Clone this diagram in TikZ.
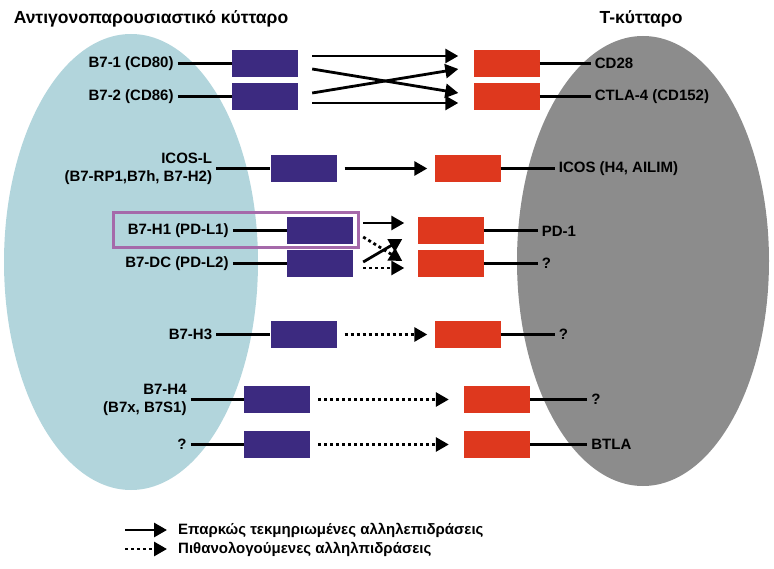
\documentclass[tikz,border=0pt]{standalone}
\usepackage{fontspec}
\setmainfont{Liberation Sans}
\usetikzlibrary{arrows.meta,positioning,calc}
\definecolor{apcblue}{RGB}{178,213,220}
\definecolor{tgray}{RGB}{140,140,140}
\definecolor{ligblue}{RGB}{60,42,128}
\definecolor{recred}{RGB}{222,56,30}
\definecolor{hlpurple}{RGB}{165,105,170}
\tikzset{
  lig/.style={fill=ligblue, minimum width=66pt, minimum height=27pt, inner sep=0pt},
  rec/.style={fill=recred, minimum width=66pt, minimum height=27pt, inner sep=0pt},
  llab/.style={font=\bfseries\fontsize{15}{18}\selectfont, inner sep=4pt, align=right},
  rlab/.style={font=\bfseries\fontsize{15}{18}\selectfont, inner sep=4pt, align=left},
  celltitle/.style={font=\bfseries\fontsize{17.5}{21}\selectfont},
  keytext/.style={font=\bfseries\fontsize{15}{18}\selectfont, inner sep=4pt},
  stem/.style={line width=3pt},
  sure/.style={line width=2.8pt, -{Triangle[length=13pt,width=14pt]}},
  maybe/.style={sure, dash pattern=on 3pt off 3pt},
}
\begin{document}
\begin{tikzpicture}[x=1pt,y=-1pt]
  \useasboundingbox (0,0) rectangle (774,569);
  % cells
  \fill[apcblue] (131,262) ellipse [x radius=127pt, y radius=228pt];
  \fill[tgray] (643,261) ellipse [x radius=126pt, y radius=225pt];
  \node[celltitle] (apctitle) at (151,19) {Αντιγονοπαρουσιαστικό κύτταρο};
  \node[celltitle] (ttitle) at (641,19) {Τ-κύτταρο};

  % ligands
  \node[lig] (b1) at (265,63.5) {};
  \node[lig] (b2) at (265,96.5) {};
  \node[lig] (icosl) at (303.5,168.5) {};
  \node[lig] (pdl1) at (320,231) {};
  \node[lig] (pdl2) at (320,263.5) {};
  \node[lig] (h3) at (303.5,334.5) {};
  \node[lig] (h4) at (277,399.5) {};
  \node[lig] (lq) at (277,444.5) {};
  % receptors
  \node[rec] (cd28) at (506.5,63.5) {};
  \node[rec] (ctla4) at (506.5,96.5) {};
  \node[rec] (icos) at (467.5,168.5) {};
  \node[rec] (pd1) at (450.5,231) {};
  \node[rec] (pdq) at (450.5,263.5) {};
  \node[rec] (h3r) at (467.5,334.5) {};
  \node[rec] (h4r) at (497,399.5) {};
  \node[rec] (btla) at (497,444.5) {};

  % labels
  \node[llab, left=54pt of b1] (b1lab) {B7-1 (CD80)};
  \node[llab, left=54pt of b2] (b2lab) {B7-2 (CD86)};
  \node[llab, left=54pt of icosl] (icosllab) {ICOS-L\\(B7-RP1,B7h, B7-H2)};
  \node[llab, left=54pt of pdl1] (pdl1lab) {B7-H1 (PD-L1)};
  \node[llab, left=54pt of pdl2] (pdl2lab) {B7-DC (PD-L2)};
  \node[llab, left=54pt of h3] (h3lab) {B7-H3};
  \node[llab, left=53pt of h4] (h4lab) {B7-H4\\(B7x, B7S1)};
  \node[llab, left=53pt of lq] (lqlab) {?};
  \node[rlab, right=51pt of cd28] (cd28lab) {CD28};
  \node[rlab, right=51pt of ctla4] (ctla4lab) {CTLA-4 (CD152)};
  \node[rlab, right=54pt of icos] (icoslab) {ICOS (H4, AILIM)};
  \node[rlab, right=54pt of pd1] (pd1lab) {PD-1};
  \node[rlab, right=54pt of pdq] (pdqlab) {?};
  \node[rlab, right=54pt of h3r] (h3rlab) {?};
  \node[rlab, right=57pt of h4r] (h4rlab) {?};
  \node[rlab, right=57pt of btla] (btlalab) {BTLA};

  % stems
  \foreach \n in {b1,b2,icosl,pdl1,pdl2,h3,h4,lq}
    \draw[stem] (\n lab.east) -- (\n.west);
  \foreach \n in {cd28,ctla4,icos,pd1,pdq,h3r,h4r,btla}
    \draw[stem] (\n.east) -- (\n lab.west);

  % interactions
  \draw[sure] ($(b1.east)+(14,-7.5)$) -- ($(cd28.west)+(-15,-7.5)$);
  \draw[sure] ($(b1.east)+(14,5.5)$) -- ($(ctla4.west)+(-15,-3.5)$);
  \draw[sure] ($(b2.east)+(14,-3.5)$) -- ($(cd28.west)+(-15,5.5)$);
  \draw[sure] ($(b2.east)+(14,6.5)$) -- ($(ctla4.west)+(-15,6.5)$);
  \draw[sure] ($(icosl.east)+(8,0)$) -- ($(icos.west)+(-7,0)$);
  \draw[sure] ($(pdl1.east)+(10,-8)$) -- ($(pd1.west)+(-13,-8)$);
  \draw[maybe] ($(pdl1.east)+(10,6)$) -- ($(pdq.west)+(-15,-2.5)$);
  \draw[sure] ($(pdl2.east)+(10,-1.5)$) -- ($(pd1.west)+(-15,8)$);
  \draw[maybe] ($(pdl2.east)+(10,4.5)$) -- ($(pdq.west)+(-13,4.5)$);
  \draw[maybe] ($(h3.east)+(8,0)$) -- ($(h3r.west)+(-7,0)$);
  \draw[maybe] ($(h4.east)+(8,0)$) -- ($(h4r.west)+(-15,0)$);
  \draw[maybe] ($(lq.east)+(8,0)$) -- ($(btla.west)+(-15,0)$);

  % highlight
  \draw[hlpurple, line width=3pt] (113,213) rectangle (358,248);

  % key
  \coordinate (k1) at (125,530);
  \coordinate (k2) at (125,549);
  \node[keytext, anchor=west] (k1txt) at (174,530) {Επαρκώς τεκμηριωμένες αλληλεπιδράσεις};
  \node[keytext, anchor=west] (k2txt) at (174,549) {Πιθανολογούμενες αλληλπιδράσεις};
  \draw[sure] (k1) -- ($(k1txt.west)+(-7,0)$);
  \draw[maybe] (k2) -- ($(k2txt.west)+(-7,0)$);
\end{tikzpicture}
\end{document}
